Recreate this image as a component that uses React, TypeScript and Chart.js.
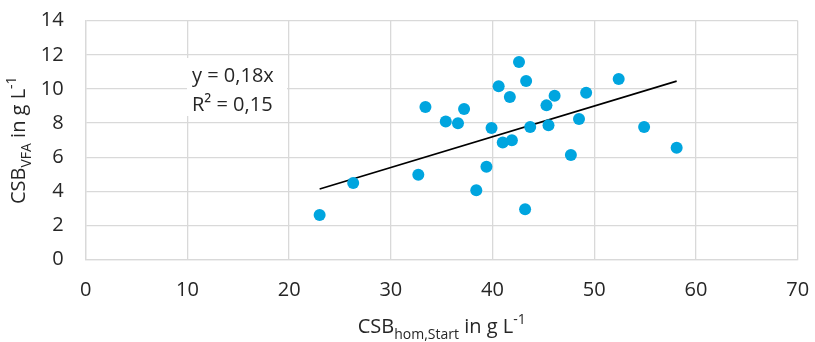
import React, { useEffect, useRef } from "react";
import { Chart, registerables } from "chart.js";

Chart.register(...registerables);

const xValues = [23.0, 26.3, 32.7, 33.4, 35.4, 36.6, 37.2, 38.4, 39.4, 39.9, 40.6, 41.0, 41.9, 41.7, 42.6, 43.2, 43.3, 43.7, 45.3, 45.5, 46.1, 47.7, 48.5, 49.2, 52.4, 54.9, 58.1];
const yValues = [2.62, 4.49, 4.98, 8.95, 8.1, 7.99, 8.83, 4.07, 5.45, 7.72, 10.16, 6.86, 7.0, 9.53, 11.58, 2.95, 10.47, 7.77, 9.04, 7.87, 9.61, 6.13, 8.24, 9.78, 10.59, 7.77, 6.56];
const trendX = [23.0, 58.1];
const trendY = [4.14, 10.46];
const xTicks = [0, 10, 20, 30, 40, 50, 60, 70];
const yTicks = [0, 2, 4, 6, 8, 10, 12, 14];
const annotationLines = ["y = 0,18x", "R² = 0,15"];

const FONT = "'Open Sans', 'DejaVu Sans', sans-serif";
const TEXT = "#262626";
const GRID = "#d9d9d9";
const DOT = "#00a5df";

type Part = { t: string; size: number; dy: number };

function drawRich(ctx: CanvasRenderingContext2D, parts: Part[], cx: number, baseline: number) {
  let total = 0;
  const widths = parts.map((p) => {
    ctx.font = `${p.size}px ${FONT}`;
    const w = ctx.measureText(p.t).width;
    total += w;
    return w;
  });
  let x = cx - total / 2;
  ctx.textAlign = "left";
  ctx.textBaseline = "alphabetic";
  parts.forEach((p, i) => {
    ctx.font = `${p.size}px ${FONT}`;
    ctx.fillText(p.t, x, baseline + p.dy);
    x += widths[i];
  });
}

const xTitle: Part[] = [
  { t: "CSB", size: 20, dy: 0 },
  { t: "hom,Start", size: 14, dy: 6 },
  { t: " in g L", size: 20, dy: 0 },
  { t: "-1", size: 14, dy: -9 },
];
const yTitle: Part[] = [
  { t: "CSB", size: 20, dy: 0 },
  { t: "VFA", size: 14, dy: 6 },
  { t: " in g L", size: 20, dy: 0 },
  { t: "-1", size: 14, dy: -9 },
];

const decorPlugin = {
  id: "decor",
  beforeDatasetsDraw(chart: any) {
    const ctx = chart.ctx as CanvasRenderingContext2D;
    ctx.save();
    ctx.fillStyle = "#ffffff";
    ctx.fillRect(187, 58, 100, 58);
    ctx.fillStyle = TEXT;
    ctx.font = `20px ${FONT}`;
    ctx.textAlign = "left";
    ctx.textBaseline = "alphabetic";
    ctx.fillText(annotationLines[0], 192, 82);
    ctx.fillText(annotationLines[1], 192, 111);
    ctx.restore();
  },
  afterDraw(chart: any) {
    const ctx = chart.ctx as CanvasRenderingContext2D;
    const area = chart.chartArea;
    ctx.save();
    ctx.fillStyle = TEXT;
    drawRich(ctx, xTitle, (area.left + area.right) / 2, 333);
    ctx.translate(25, (area.top + area.bottom) / 2);
    ctx.rotate(-Math.PI / 2);
    drawRich(ctx, yTitle, 0, 0);
    ctx.restore();
  },
};

export default function App() {
  const ref = useRef<HTMLCanvasElement | null>(null);
  useEffect(() => {
    if (!ref.current) return;
    const chart = new Chart(ref.current, {
      type: "scatter",
      data: {
        datasets: [
          {
            label: "data",
            data: xValues.map((x, i) => ({ x, y: yValues[i] })),
            backgroundColor: DOT,
            borderColor: DOT,
            pointRadius: 6,
            pointHoverRadius: 6,
            borderWidth: 0,
          },
          {
            label: "trend",
            type: "line",
            data: trendX.map((x, i) => ({ x, y: trendY[i] })),
            borderColor: "#000000",
            borderWidth: 1.6,
            pointRadius: 0,
            fill: false,
          } as any,
        ],
      },
      options: {
        responsive: false,
        animation: false,
        layout: { padding: { left: 0, top: 20.7, right: 17.3, bottom: 0 } },
        plugins: { legend: { display: false }, tooltip: { enabled: false } },
        scales: {
          x: {
            type: "linear",
            min: 0,
            max: 70,
            afterBuildTicks: (s: any) => {
              s.ticks = xTicks.map((v) => ({ value: v }));
            },
            afterFit: (s: any) => {
              s.height = 82.3;
            },
            grid: { color: GRID, lineWidth: 1.3, drawTicks: true, tickLength: 19, tickColor: "rgba(0,0,0,0)" },
            border: { color: GRID, width: 1.3 },
            ticks: { padding: 0, color: TEXT, font: { family: FONT, size: 20 } },
          },
          y: {
            type: "linear",
            min: 0,
            max: 14,
            afterBuildTicks: (s: any) => {
              s.ticks = yTicks.map((v) => ({ value: v }));
            },
            afterFit: (s: any) => {
              s.width = 85.7;
            },
            grid: { color: GRID, lineWidth: 1.3, drawTicks: true, tickLength: 22, tickColor: "rgba(0,0,0,0)" },
            border: { color: GRID, width: 1.3 },
            ticks: { padding: 0, color: TEXT, font: { family: FONT, size: 20 } },
          },
        },
      },
      plugins: [decorPlugin],
    });
    return () => chart.destroy();
  }, []);
  return (
    <div style={{ position: "fixed", left: 0, top: 0, width: 815, height: 342, background: "#fff" }}>
      <canvas ref={ref} width={815} height={342} style={{ display: "block" }} />
    </div>
  );
}
